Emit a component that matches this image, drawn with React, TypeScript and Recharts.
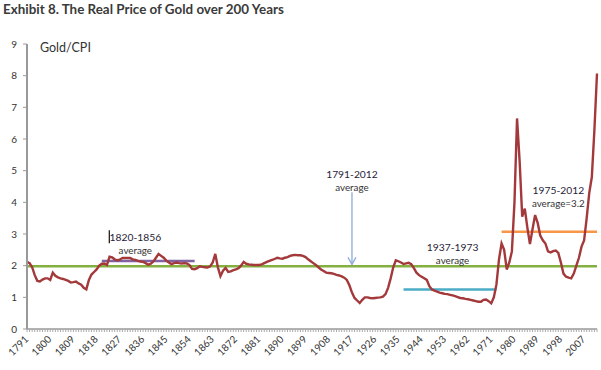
import { LineChart, Line, XAxis, YAxis, ReferenceLine, ReferenceDot } from "recharts";

const firstYear = 1791;
// real gold price (gold / CPI), one value per year 1791-2012
const goldCpi = [
  2.12, 2.08, 1.95, 1.7, 1.52, 1.5, 1.56, 1.6, 1.6, 1.55,
  1.78, 1.68, 1.63, 1.6, 1.58, 1.55, 1.52, 1.47, 1.48, 1.5,
  1.44, 1.4, 1.3, 1.25, 1.55, 1.72, 1.8, 1.88, 2.0, 2.06,
  2.07, 2.02, 2.28, 2.26, 2.2, 2.17, 2.19, 2.24, 2.24, 2.24,
  2.24, 2.2, 2.18, 2.15, 2.13, 2.12, 2.08, 2.03, 2.06, 2.13,
  2.25, 2.37, 2.31, 2.25, 2.16, 2.1, 2.05, 2.08, 2.1, 2.08,
  2.07, 2.08, 2.07, 2.02, 1.9, 1.89, 1.92, 1.98, 1.96, 1.95,
  1.94, 1.98, 2.1, 2.37, 1.95, 1.67, 1.84, 1.93, 1.8, 1.82,
  1.86, 1.88, 1.92, 2.0, 2.12, 2.06, 2.04, 2.03, 2.02, 2.02,
  2.02, 2.04, 2.08, 2.12, 2.15, 2.18, 2.21, 2.25, 2.23, 2.22,
  2.25, 2.27, 2.31, 2.33, 2.34, 2.33, 2.33, 2.31, 2.27, 2.2,
  2.14, 2.08, 2.02, 1.95, 1.88, 1.83, 1.78, 1.77, 1.76, 1.74,
  1.71, 1.69, 1.66, 1.62, 1.55, 1.38, 1.15, 0.98, 0.9, 0.82,
  0.92, 1.0, 1.0, 0.98, 0.97, 0.98, 0.99, 1.0, 1.02, 1.1,
  1.3, 1.6, 1.95, 2.17, 2.14, 2.1, 2.05, 2.07, 2.09, 2.05,
  1.92, 1.78, 1.7, 1.65, 1.6, 1.55, 1.35, 1.25, 1.21, 1.18,
  1.15, 1.13, 1.11, 1.1, 1.08, 1.06, 1.04, 1.01, 0.98, 0.97,
  0.95, 0.94, 0.92, 0.9, 0.88, 0.86, 0.86, 0.92, 0.93, 0.88,
  0.81, 1.0, 1.4, 2.2, 2.7, 2.5, 1.88, 2.1, 2.45, 4.0,
  6.65, 5.3, 3.55, 3.8, 3.2, 2.68, 3.15, 3.6, 3.35, 2.95,
  2.8, 2.7, 2.45, 2.42, 2.46, 2.48, 2.4, 2.1, 1.75, 1.65,
  1.62, 1.6, 1.75, 2.0, 2.25, 2.6, 2.8, 3.5, 4.3, 4.8,
  6.3, 8.07,
];
const years = goldCpi.map((_, i) => firstYear + i);
const yTicks = [0, 1, 2, 3, 4, 5, 6, 7, 8, 9];

// period averages
const fullAverage = 1.98;
const avg1820 = 2.15;
const avg1937 = 1.25;
const avg1975 = 3.07;

const data = years.map((year, i) => ({ year, value: goldCpi[i] }));

const font = "Lato, 'Open Sans', sans-serif";

const YearTick = (props: any) => {
  const { x, y, payload } = props;
  if ((payload.value - firstYear) % 9 !== 0) return null;
  return (
    <text
      x={x + 2}
      y={y + 6}
      transform={`rotate(-45, ${x + 2}, ${y + 6})`}
      textAnchor="end"
      fontSize={10}
      fontFamily={font}
      fill="#333"
    >
      {payload.value}
    </text>
  );
};

const note = (title: string, sub: string, bar = false) => (p: any) => (
  <g>
    {bar && <line x1={p.cx - 26} x2={p.cx - 26} y1={p.cy - 7} y2={p.cy + 6} stroke="#222" strokeWidth={1.3} />}
    <text x={p.cx} y={p.cy + 4} textAnchor="middle" fontSize={10.3} fontFamily={font} fill="#1f2237">
      {title}
    </text>
    <text x={p.cx} y={p.cy + 17} textAnchor="middle" fontSize={9.8} fontFamily={font} fill="#333">
      {sub}
    </text>
  </g>
);

export default function App() {
  return (
    <div style={{ position: "absolute", left: 0, top: 0, width: 601, height: 370, background: "#fff" }}>
      <div
        style={{
          position: "absolute",
          left: 3,
          top: 1,
          fontFamily: font,
          fontWeight: "bold",
          fontSize: 13.4,
          color: "#3a3a3a",
        }}
      >
        Exhibit 8. The Real Price of Gold over 200 Years
      </div>
      <LineChart width={601} height={370} data={data} margin={{ top: 44, right: 4, left: 0, bottom: 0 }}>
        <defs>
          <marker id="arrowHead" markerWidth="10" markerHeight="10" refX="8" refY="5" orient="auto" markerUnits="userSpaceOnUse">
            <path d="M1,1 L8,5 L1,9" fill="none" stroke="#8faadc" strokeWidth={1.3} />
          </marker>
        </defs>
        <XAxis
          dataKey="year"
          interval={0}
          height={41}
          tick={<YearTick />}
          tickSize={3}
          tickLine={{ stroke: "#aaa" }}
          axisLine={{ stroke: "#999", strokeWidth: 1.5 }}
        />
        <YAxis
          domain={[0, 9]}
          ticks={yTicks}
          width={27}
          tickSize={4}
          tickMargin={6}
          tickLine={{ stroke: "#999" }}
          axisLine={{ stroke: "#999", strokeWidth: 2 }}
          tick={{ fontSize: 10, fontFamily: font, fill: "#333" }}
        />
        <ReferenceLine y={fullAverage} stroke="#84b042" strokeWidth={2.5} />
        <ReferenceLine segment={[{ x: 1820, y: avg1820 }, { x: 1856, y: avg1820 }]} stroke="#8064a2" strokeWidth={2.5} />
        <ReferenceLine segment={[{ x: 1937, y: avg1937 }, { x: 1973, y: avg1937 }]} stroke="#4bacc6" strokeWidth={2.5} />
        <ReferenceLine segment={[{ x: 1975, y: avg1975 }, { x: 2012, y: avg1975 }]} stroke="#f79646" strokeWidth={2.5} />
        <ReferenceLine
          segment={[{ x: 1917, y: 4.32 }, { x: 1917, y: 2.04 }]}
          stroke="#8faadc"
          strokeWidth={1.3}
          markerEnd="url(#arrowHead)"
        />
        <Line
          type="linear"
          dataKey="value"
          stroke="#a3393b"
          strokeWidth={2.4}
          dot={false}
          isAnimationActive={false}
        />
        <ReferenceDot
          x={1796}
          y={8.9}
          r={0}
          shape={(p: any) => (
            <text x={p.cx} y={p.cy + 5} fontSize={12.5} fontFamily={font} fill="#333">
              Gold/CPI
            </text>
          )}
        />
        <ReferenceDot x={1833} y={2.9} r={0} shape={note("1820-1856", "average", true)} />
        <ReferenceDot x={1917} y={4.89} r={0} shape={note("1791-2012", "average")} />
        <ReferenceDot x={1956} y={2.59} r={0} shape={note("1937-1973", "average")} />
        <ReferenceDot x={1997} y={4.38} r={0} shape={note("1975-2012", "average=3.2")} />
      </LineChart>
    </div>
  );
}
